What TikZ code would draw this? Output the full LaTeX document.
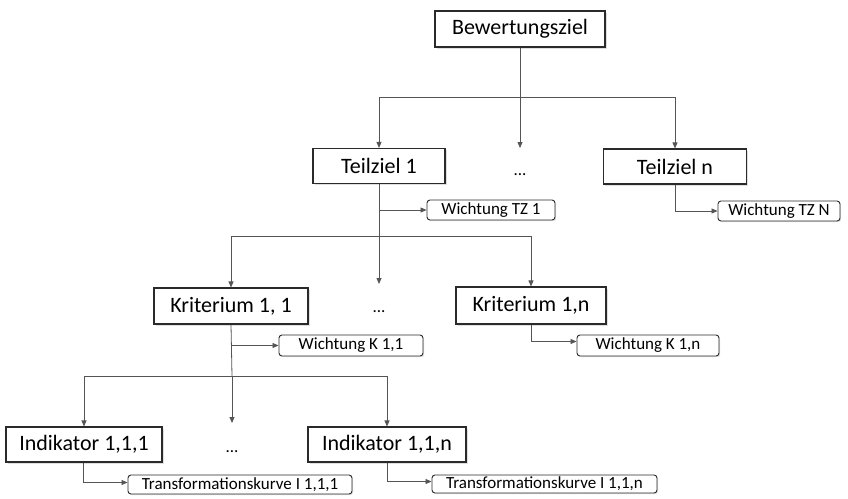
\documentclass[tikz,border=0pt]{standalone}
\usepackage{fontspec}
\setmainfont{Carlito}
\usetikzlibrary{arrows.meta,shadows}
\definecolor{linegray}{HTML}{555555}
\definecolor{boxline}{HTML}{2A2A2A}
\tikzset{
  mainbox/.style={draw=boxline,line width=1.1pt,fill=white,inner sep=0pt,
    font=\fontsize{22}{24}\selectfont,
    drop shadow={shadow xshift=1.5pt,shadow yshift=-1.5pt,opacity=0.25}},
  weightbox/.style={draw=boxline,line width=0.9pt,fill=white,rounded corners=3pt,inner sep=0pt,
    font=\fontsize{17}{19}\selectfont,
    drop shadow={shadow xshift=1.2pt,shadow yshift=-1.2pt,opacity=0.25}},
  dotsnode/.style={inner sep=0pt,anchor=base,font=\fontsize{17}{19}\selectfont},
  conn/.style={draw=linegray,line width=0.8pt},
  arr/.style={conn,-{Triangle[length=6pt,width=5pt]}},
}
\begin{document}
\begin{tikzpicture}[x=1pt,y=-1pt]
\useasboundingbox (0,0) rectangle (848,498);

% level 0
\node[mainbox,minimum width=170pt,minimum height=36pt] (bz) at (520,29) {Bewertungsziel};

% level 1: sub-goals
\node[mainbox,minimum width=132pt,minimum height=35pt] (tz1) at (379,166) {Teilziel 1};
\node[dotsnode] (tzdots) at (520,175) {...};
\node[mainbox,minimum width=143pt,minimum height=35pt] (tzn) at (675,166.5) {Teilziel n};
\node[weightbox,minimum width=128pt,minimum height=20pt] (wtz1) at (491,210) {Wichtung TZ 1};
\node[weightbox,minimum width=122pt,minimum height=20pt] (wtzn) at (779,211) {Wichtung TZ N};

% level 2: criteria
\node[mainbox,minimum width=154pt,minimum height=36pt] (k11) at (231,306) {Kriterium 1, 1};
\node[dotsnode] (kdots) at (379,312) {...};
\node[mainbox,minimum width=150pt,minimum height=37pt] (k1n) at (531,305.5) {Kriterium 1,n};
\node[weightbox,minimum width=144pt,minimum height=21pt] (wk11) at (351,345.5) {Wichtung K 1,1};
\node[weightbox,minimum width=142pt,minimum height=21pt] (wk1n) at (648,345.5) {Wichtung K 1,n};

% level 3: indicators
\node[mainbox,minimum width=156pt,minimum height=35pt] (i111) at (84,444.5) {Indikator 1,1,1};
\node[dotsnode] (idots) at (232,452) {...};
\node[mainbox,minimum width=158pt,minimum height=35pt] (i11n) at (387,444.5) {Indikator 1,1,n};
\node[weightbox,minimum width=224pt,minimum height=19pt] (tk111) at (240,484.5) {Transformationskurve I 1,1,1};
\node[weightbox,minimum width=225pt,minimum height=18pt] (tk11n) at (544.5,484) {Transformationskurve I 1,1,n};

% junction points and ends of the arrows above the ellipses
\coordinate (j0) at (520,97);
\coordinate (j1) at (379,236);
\coordinate (j2) at (232,376);
\coordinate (tzdend) at (520,148);
\coordinate (kdend) at (379,284);
\coordinate (idend) at (232,423);

% goal -> sub-goals
\draw[conn] (bz.south) -- (j0);
\draw[arr] (j0) -| (tz1.north);
\draw[arr] (j0) -| (tzn.north);
\draw[arr] (j0) -- (tzdend);

% sub-goal 1 -> criteria and weights
\draw[conn] (tz1.south) -- (j1);
\draw[arr] (tz1.south |- wtz1.west) -- (wtz1.west);
\draw[arr] (j1) -| (k11.north);
\draw[arr] (j1) -| (k1n.north);
\draw[arr] (j1) -- (kdend);
\draw[arr] (tzn.south) |- (wtzn.west);

% criterion 1,1 -> indicators and weights
\draw[conn] (k11.south) -- (j2);
\draw[arr] (k11.south |- wk11.west) -- (wk11.west);
\draw[arr] (j2) -| (i111.north);
\draw[arr] (j2) -| (i11n.north);
\draw[arr] (j2) -- (idend);
\draw[arr] (k1n.south) |- ([yshift=4pt]wk1n.west);

% indicators -> transformation curves
\draw[arr] ([xshift=-1pt]i111.south) |- ([yshift=2pt]tk111.west);
\draw[arr] (i11n.south) |- ([yshift=2.5pt]tk11n.west);
\end{tikzpicture}
\end{document}
